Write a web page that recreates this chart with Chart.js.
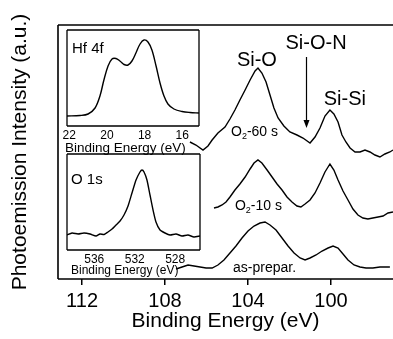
<!DOCTYPE html>
<html>
<head>
<meta charset="utf-8">
<script src="https://cdn.jsdelivr.net/npm/chart.js@4.4.1/dist/chart.umd.min.js"></script>
<style>
    html, body { margin: 0; padding: 0; background: #fff; }
    #wrap { position: relative; width: 393px; height: 339px; overflow: hidden; }
    #main { position: absolute; left: 0; top: 0; }
    #hf { position: absolute; left: 60px; top: 27px; }
    #o1s { position: absolute; left: 60px; top: 151px; }
</style>
</head>
<body>
<div id="wrap">
    <canvas id="main" width="393" height="339"></canvas>
    <canvas id="hf" width="142" height="128"></canvas>
    <canvas id="o1s" width="143" height="126"></canvas>
</div>
<script>
// Si 2p spectra (binding energy in eV, intensity in a.u.)
const energyTop = [106.80, 106.51, 106.17, 105.93, 105.73, 105.45, 105.11, 104.87, 104.63, 104.39, 104.14, 103.90, 103.66, 103.52, 103.33, 103.13, 102.94, 102.75, 102.55, 102.27, 101.98, 101.64, 101.35, 101.01, 100.77, 100.53, 100.29, 100.05, 99.86, 99.66, 99.47, 99.28, 99.08, 98.84, 98.60, 98.36, 98.12, 97.88, 97.64, 97.40, 97.16, 97.01];
const intensityTop = [136, 133, 128, 132, 138, 145, 151, 159, 168, 178, 188, 198, 207, 210, 205, 196, 183, 170, 160, 152, 146, 143, 140, 135, 141, 150, 162, 168, 164, 156, 143, 136, 130, 126, 126, 128, 126, 123, 121, 124, 126, 128];

const energyMid = [105.64, 105.45, 105.25, 105.06, 104.87, 104.63, 104.39, 104.14, 103.90, 103.71, 103.52, 103.33, 103.08, 102.84, 102.60, 102.36, 102.12, 101.88, 101.64, 101.45, 101.25, 101.01, 100.77, 100.53, 100.29, 100.05, 99.86, 99.66, 99.42, 99.18, 98.94, 98.70, 98.46, 98.22, 97.98, 97.73, 97.49, 97.25, 97.01];
const intensityMid = [70, 71, 73, 76, 81, 88, 94, 101, 109, 115, 118, 115, 108, 101, 94, 88, 81, 76, 72, 71, 74, 78, 85, 95, 106, 114, 108, 98, 87, 78, 69, 63, 60, 59, 60, 61, 62, 65, 66];

const energyBottom = [107.47, 107.18, 106.89, 106.60, 106.31, 106.02, 105.73, 105.45, 105.16, 104.87, 104.58, 104.29, 104.00, 103.71, 103.42, 103.18, 102.94, 102.65, 102.36, 102.07, 101.78, 101.49, 101.25, 101.01, 100.72, 100.43, 100.14, 99.90, 99.66, 99.42, 99.18, 98.89, 98.60, 98.31, 97.98, 97.64, 97.40, 97.16];
const intensityBottom = [9, 11, 13, 12, 11, 10, 10, 13, 18, 25, 32, 40, 47, 52, 55, 56, 53, 48, 40, 32, 25, 20, 18, 20, 23, 27, 30, 32, 30, 24, 18, 13, 11, 10, 10, 11, 11, 11];

const mainTicks = [112, 108, 104, 100];

// Hf 4f inset
const energyHf = [22.12, 21.43, 21.00, 20.63, 20.37, 20.16, 19.94, 19.73, 19.52, 19.31, 19.09, 18.88, 18.67, 18.46, 18.24, 18.03, 17.82, 17.61, 17.39, 17.18, 16.97, 16.76, 16.44, 16.01, 15.59, 15.11];
const intensityHf = [10, 10.5, 12, 18, 30, 46, 60, 67, 67.5, 65, 61.5, 61, 65, 73, 82, 86, 84, 76, 60, 43, 30, 22, 17, 14.5, 13.5, 13];
const hfTicks = [22, 20, 18, 16];

// O 1s inset
const energyO = [538.69, 538.19, 537.60, 537.01, 536.41, 535.82, 535.43, 535.03, 534.64, 534.24, 533.85, 533.45, 533.06, 532.66, 532.27, 531.87, 531.48, 531.28, 531.08, 530.79, 530.49, 530.19, 529.90, 529.50, 529.01, 528.51, 527.92, 527.33, 526.74, 526.15, 525.55];
const intensityO = [15, 17, 16, 17, 16, 14, 16, 15.5, 18, 21, 25, 29, 35, 44, 57, 70, 78, 80, 78, 70, 55, 40, 28, 20, 17, 15, 16, 14, 15, 13, 14];
const oTicks = [536, 532, 528];

const fontFamily = "'Liberation Sans', Arial, sans-serif";
Chart.defaults.font.family = fontFamily;
Chart.defaults.color = '#000';

function lineSet(xs, ys, tension) {
    return {
        data: xs.map((x, i) => ({ x: x, y: ys[i] })),
        borderColor: '#000',
        borderWidth: 1.4,
        pointRadius: 0,
        tension: tension || 0,
        fill: false
    };
}

// draws the box lines round the plot area
const framePlugin = {
    id: 'frame',
    afterDraw(chart, args, opts) {
        const { ctx, chartArea: a } = chart;
        const sides = opts.sides || 'tlbr';
        ctx.save();
        ctx.strokeStyle = '#000';
        ctx.lineWidth = opts.width || 1.5;
        ctx.beginPath();
        if (sides.includes('t')) { ctx.moveTo(a.left, a.top); ctx.lineTo(a.right, a.top); }
        if (sides.includes('b')) { ctx.moveTo(a.left, a.bottom); ctx.lineTo(a.right, a.bottom); }
        if (sides.includes('l')) { ctx.moveTo(a.left, a.top); ctx.lineTo(a.left, a.bottom); }
        if (sides.includes('r')) { ctx.moveTo(a.right, a.top); ctx.lineTo(a.right, a.bottom); }
        ctx.stroke();
        ctx.restore();
    }
};

function drawSub(ctx, a, sub, b, x, y) {
    ctx.textAlign = 'left';
    ctx.font = '14px ' + fontFamily;
    ctx.fillText(a, x, y);
    let w = ctx.measureText(a).width;
    ctx.font = '9px ' + fontFamily;
    ctx.fillText(sub, x + w, y + 5);
    w += ctx.measureText(sub).width;
    ctx.font = '14px ' + fontFamily;
    ctx.fillText(b, x + w, y);
}

// peak names, arrow and sample names on the main plot
const labelPlugin = {
    id: 'peakLabels',
    afterDatasetsDraw(chart) {
        const { ctx, scales: { x, y } } = chart;
        ctx.save();
        ctx.fillStyle = '#000';
        ctx.strokeStyle = '#000';
        ctx.textBaseline = 'middle';
        ctx.textAlign = 'center';
        ctx.font = '20px ' + fontFamily;
        ctx.fillText('Si-O', x.getPixelForValue(103.57), y.getPixelForValue(218));
        ctx.fillText('Si-O-N', x.getPixelForValue(100.72), y.getPixelForValue(235));
        ctx.fillText('Si-Si', x.getPixelForValue(99.33), y.getPixelForValue(179));

        const ax = Math.round(x.getPixelForValue(101.22)) + 0.5;
        const y0 = y.getPixelForValue(221);
        const y1 = y.getPixelForValue(150);
        ctx.lineWidth = 1.2;
        ctx.beginPath();
        ctx.moveTo(ax, y0);
        ctx.lineTo(ax, y1 - 6);
        ctx.stroke();
        ctx.beginPath();
        ctx.moveTo(ax - 3, y1 - 8);
        ctx.lineTo(ax + 3, y1 - 8);
        ctx.lineTo(ax, y1);
        ctx.closePath();
        ctx.fill();

        drawSub(ctx, 'O', '2', '-60 s', x.getPixelForValue(104.82), y.getPixelForValue(146));
        drawSub(ctx, 'O', '2', '-10 s', x.getPixelForValue(104.63), y.getPixelForValue(72));
        ctx.font = '14px ' + fontFamily;
        ctx.fillText('as-prepar.', x.getPixelForValue(104.72), y.getPixelForValue(10));
        ctx.restore();
    }
};

// core level name inside the inset and its axis title under the tick labels
const insetLabelPlugin = {
    id: 'insetLabel',
    afterDraw(chart, args, opts) {
        const { ctx, chartArea: a } = chart;
        ctx.save();
        ctx.fillStyle = '#000';
        ctx.textBaseline = 'middle';
        ctx.textAlign = 'left';
        ctx.font = '15px ' + fontFamily;
        ctx.fillText(opts.text, a.left + opts.dx, a.top + opts.dy);
        ctx.font = opts.titleSize + 'px ' + fontFamily;
        ctx.fillText('Binding Energy (eV)', a.left + opts.titleDx, a.bottom + opts.titleDy);
        ctx.restore();
    }
};

new Chart(document.getElementById('main'), {
    type: 'line',
    data: {
        datasets: [
            lineSet(energyTop, intensityTop),
            lineSet(energyMid, intensityMid),
            lineSet(energyBottom, intensityBottom)
        ]
    },
    options: {
        responsive: false,
        animation: false,
        devicePixelRatio: 1,
        layout: { padding: { top: 25, right: 0, left: 0, bottom: 0 } },
        plugins: {
            legend: { display: false },
            tooltip: { enabled: false },
            frame: { sides: 'tlb', width: 1.6 }
        },
        scales: {
            x: {
                type: 'linear',
                reverse: true,
                min: 97.01,
                max: 113.16,
                afterBuildTicks: s => { s.ticks = mainTicks.map(v => ({ value: v })); },
                ticks: { font: { size: 20 }, padding: 4, color: '#000', maxRotation: 0, callback: v => String(v) },
                grid: { display: true, drawOnChartArea: false, drawTicks: true, tickLength: 6, color: '#000', lineWidth: 1.5 },
                border: { display: false },
                title: { display: true, text: 'Binding Energy (eV)', color: '#000', font: { size: 21, lineHeight: 1 }, padding: { top: 0, bottom: 7 } },
                afterFit: s => { s.height = 60; }
            },
            y: {
                min: -1,
                max: 253,
                ticks: { display: false },
                grid: { display: false },
                border: { display: false },
                title: { display: true, text: 'Photoemission Intensity (a.u.)', color: '#000', font: { size: 21, lineHeight: 1 }, padding: { top: 10, bottom: 0 } },
                afterFit: s => { s.width = 58; }
            }
        }
    },
    plugins: [framePlugin, labelPlugin]
});

function insetOptions(xmin, xmax, ticks, tickPad, axisHeight, label) {
    return {
        responsive: false,
        animation: false,
        devicePixelRatio: 1,
        layout: { padding: { top: 3, right: 3, left: 7, bottom: 0 } },
        plugins: {
            legend: { display: false },
            tooltip: { enabled: false },
            frame: { sides: 'tlbr', width: 1.3 },
            insetLabel: label
        },
        scales: {
            x: {
                type: 'linear',
                reverse: true,
                min: xmin,
                max: xmax,
                afterBuildTicks: s => { s.ticks = ticks.map(v => ({ value: v })); },
                ticks: { font: { size: 12 }, padding: tickPad, color: '#000', maxRotation: 0, callback: v => String(v) },
                grid: { display: false, drawTicks: false },
                border: { display: false },
                title: { display: false },
                afterFit: s => { s.height = axisHeight; }
            },
            y: { display: false, min: 0, max: 96 }
        }
    };
}

new Chart(document.getElementById('hf'), {
    type: 'line',
    data: { datasets: [lineSet(energyHf, intensityHf, 0.35)] },
    options: insetOptions(15.11, 22.12, hfTicks, 2, 29, { text: 'Hf 4f', dx: 5, dy: 19, titleSize: 13.5, titleDx: -2, titleDy: 22 }),
    plugins: [framePlugin, insetLabelPlugin]
});

new Chart(document.getElementById('o1s'), {
    type: 'line',
    data: { datasets: [lineSet(energyO, intensityO, 0.2)] },
    options: insetOptions(525.55, 538.69, oTicks, 2, 27, { text: 'O 1s', dx: 4, dy: 26, titleSize: 12, titleDx: 4, titleDy: 21 }),
    plugins: [framePlugin, insetLabelPlugin]
});
</script>
</body>
</html>
